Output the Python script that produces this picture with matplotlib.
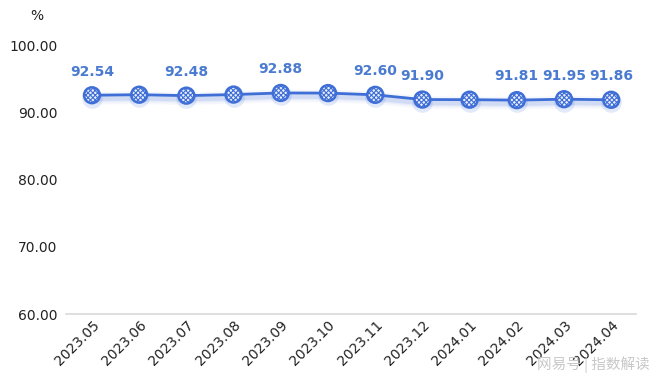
import numpy as np
import matplotlib.pyplot as plt

plt.rcParams['font.family'] = ['DejaVu Sans', 'Noto Sans CJK SC']
plt.rcParams['hatch.linewidth'] = 0.8

months = ["2023.05", "2023.06", "2023.07", "2023.08", "2023.09", "2023.10",
          "2023.11", "2023.12", "2024.01", "2024.02", "2024.03", "2024.04"]
values = [92.54, 92.62, 92.48, 92.64, 92.88, 92.86, 92.60, 91.90, 91.88, 91.81, 91.95, 91.86]
labelled = [0, 2, 4, 6, 7, 9, 10, 11]
yticks = [60, 70, 80, 90, 100]

blue = '#3f6fd6'
fig = plt.figure(figsize=(6.6, 3.82), dpi=100)
ax = fig.add_axes([0.1, 0.178, 0.864, 0.704])

x = np.arange(len(months))

# ombre douce sous la courbe
for lw, a in [(9, 0.05), (6, 0.08), (4, 0.12)]:
    ax.plot(x, np.array(values) - 0.45, color=blue, lw=lw, alpha=a,
            solid_capstyle='round', zorder=1)
ax.plot(x, values, color=blue, lw=2, zorder=2)
ax.scatter(x, np.array(values) - 0.35, s=220, color=blue, alpha=0.15,
           linewidths=0, zorder=2)
ax.scatter(x, values, s=130, facecolor='#e8eefb', edgecolor=blue,
           hatch='xxxxxxx', linewidths=1.8, zorder=3)

for i in labelled:
    ax.annotate(f"{values[i]:.2f}", (x[i], values[i]), xytext=(0, 12),
                textcoords='offset points', ha='center', va='bottom',
                fontsize=10, fontweight='bold', color='#4a7bd0')

ax.set_xlim(-0.55, 11.53)
ax.set_ylim(60, 100)
ax.set_yticks(yticks)
ax.set_yticklabels([f"{v:.2f}" for v in yticks], fontsize=10, color='#222222')
ax.set_xticks(x)
ax.set_xticklabels(months, rotation=45, ha='right', va='top',
                   rotation_mode='anchor', fontsize=10, color='#222222')
ax.tick_params(length=0, pad=6)
ax.tick_params(axis='x', pad=3)
for s in ['top', 'right', 'left']:
    ax.spines[s].set_visible(False)
ax.spines['bottom'].set_color('#d9d9d9')
ax.spines['bottom'].set_linewidth(1.2)

fig.text(0.056, 0.958, "%", ha='center', va='center', fontsize=10, color='#222222')
fig.text(0.985, 0.045, "网易号 | 指数解读", ha='right', va='center', fontsize=10.5,
         color='#c8c8c8', family=['Noto Sans CJK SC', 'DejaVu Sans'])

fig.savefig("out.png", dpi=100)
